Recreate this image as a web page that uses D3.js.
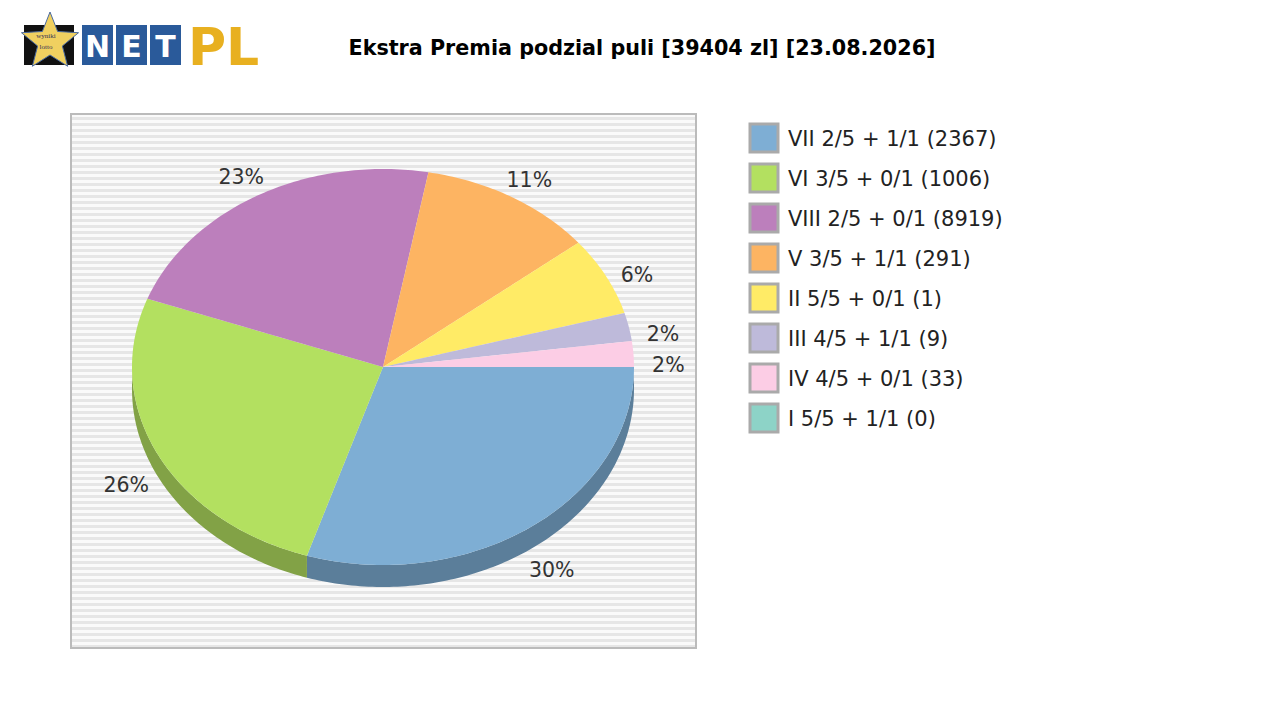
<!DOCTYPE html><html><head><meta charset="utf-8"><script src="https://cdn.jsdelivr.net/npm/d3@7"></script>
<style>body{margin:0;background:#fff}</style></head><body><svg id="c" width="1280" height="720"></svg>
<script>
const categories=["VII 2/5 + 1/1 (2367)","VI 3/5 + 0/1 (1006)","VIII 2/5 + 0/1 (8919)","V 3/5 + 1/1 (291)","II 5/5 + 0/1 (1)","III 4/5 + 1/1 (9)","IV 4/5 + 0/1 (33)","I 5/5 + 1/1 (0)"];
const shares=[29.9,25.7,22.3,11.3,6.4,2.3,2.1,0];
const labels=["30%","26%","23%","11%","6%","2%","2%",""];
const colors=["#7eaed4","#b3e060","#bc7fbc","#fdb462","#ffeb66","#bebada","#fccde5","#8dd3c7"];
const svg=d3.select("#c");
const title="Ekstra Premia podzial puli [39404 zl] [23.08.2026]";
svg.append("text").attr("x",642).attr("y",55).attr("text-anchor","middle").attr("font-family","DejaVu Sans").attr("font-weight","bold").attr("font-size",20.7).text(title);
// logo
const lg=svg.append("g");
const star=d3.range(10).map(i=>{const a=-Math.PI/2+i*Math.PI/5,r=i%2?13:30;return [50+r*Math.cos(a),42+r*Math.sin(a)];});
lg.append("rect").attr("x",24).attr("y",25).attr("width",50).attr("height",40).attr("fill","#111");
lg.append("polygon").attr("points",star.map(p=>p.join(",")).join(" ")).attr("fill","#f0d060").attr("stroke","#4a6aa0");
lg.append("text").attr("x",46).attr("y",38).attr("font-size",7).attr("text-anchor","middle").attr("fill","#335").text("wyniki");
lg.append("text").attr("x",46).attr("y",49).attr("font-size",7).attr("text-anchor","middle").attr("fill","#335").text("lotto");
["N","E","T"].forEach((t,i)=>{lg.append("rect").attr("x",82+i*34).attr("y",25).attr("width",31).attr("height",40).attr("fill","#2a5a9a");
lg.append("text").attr("x",97.5+i*34).attr("y",57).attr("text-anchor","middle").attr("fill","#fff").attr("font-family","DejaVu Sans").attr("font-weight","bold").attr("font-size",30).text(t);});
lg.append("text").attr("x",188).attr("y",65).attr("fill","#e8b020").attr("font-family","DejaVu Sans").attr("font-weight","bold").attr("font-size",52).text("PL");
// plot background
const defs=svg.append("defs");
const pat=defs.append("pattern").attr("id","st").attr("width",6).attr("height",6).attr("patternUnits","userSpaceOnUse");
pat.append("rect").attr("width",6).attr("height",6).attr("fill","#fafafa");
pat.append("rect").attr("y",3).attr("width",6).attr("height",3).attr("fill","#e6e6e6");
svg.append("rect").attr("x",71).attr("y",114).attr("width",625).attr("height",534).attr("fill","url(#st)").attr("stroke","#bbb").attr("stroke-width",2);
// pie
const cx=383,cy=367,rx=251,ry=198,dep=22;
const total=d3.sum(shares);
const ang=d3.scaleLinear().domain([0,total]).range([0,2*Math.PI]);
let acc=0;const slices=shares.map((v,i)=>{const s={i,a0:ang(acc),a1:ang(acc+v)};acc+=v;return s;});
const pt=(a,dy=0)=>[cx+rx*Math.cos(a),cy+ry*Math.sin(a)+dy];
const arcPts=(a0,a1,dy)=>{const n=Math.max(2,Math.ceil((a1-a0)*60));return d3.range(n+1).map(k=>pt(a0+(a1-a0)*k/n,dy));};
const dark=c=>d3.color(c).darker(0.9).formatHex();
slices.forEach(s=>{const a0=Math.max(s.a0,0),a1=Math.min(s.a1,Math.PI);if(a1<=a0)return;
const p=arcPts(a0,a1,0).concat(arcPts(a0,a1,dep).reverse());
svg.append("path").attr("d",d3.line()(p)+"Z").attr("fill",dark(colors[s.i]));});
slices.forEach(s=>{if(s.a1<=s.a0)return;const p=[[cx,cy]].concat(arcPts(s.a0,s.a1,0));
svg.append("path").attr("d",d3.line()(p)+"Z").attr("fill",colors[s.i]);});
slices.forEach(s=>{if(!labels[s.i])return;const m=(s.a0+s.a1)/2;const sn=Math.sin(m),cs=Math.cos(m);
const x=cx+(rx+35)*cs,y=cy+(ry+25)*sn+8+12*cs*cs+(sn>0?dep*sn:0);
svg.append("text").attr("x",x).attr("y",y).attr("text-anchor","middle").attr("font-family","DejaVu Sans").attr("font-size",20.5).attr("fill","#333").text(labels[s.i]);});
// legend
categories.forEach((c,i)=>{const y=124+i*40;
svg.append("rect").attr("x",750).attr("y",y).attr("width",28).attr("height",28).attr("fill",colors[i]).attr("stroke","#aaa").attr("stroke-width",3);
svg.append("text").attr("x",788).attr("y",y+22).attr("font-family","DejaVu Sans").attr("font-size",21).attr("fill","#222").text(c);});
</script></body></html>
